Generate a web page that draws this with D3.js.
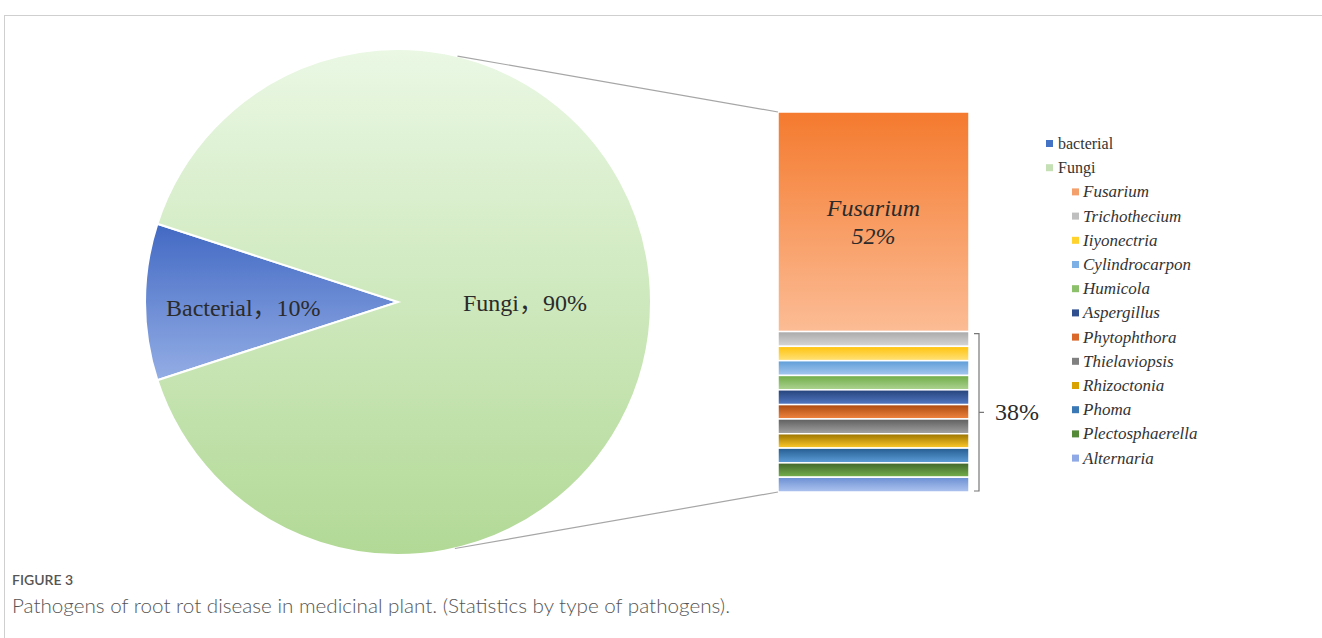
<!DOCTYPE html>
<html><head><meta charset="utf-8">
<script src="https://cdn.jsdelivr.net/npm/d3@7/dist/d3.min.js"></script>
<style>body{margin:0;background:#fff}svg{display:block}</style>
</head><body>
<svg id="chart" width="1322" height="638"></svg>
<script>
// ---- data ----
const mainCategories = ["Bacterial", "Fungi"];
const mainValues = [10, 90];
const fungiGenera = ["Fusarium","Trichothecium","Iiyonectria","Cylindrocarpon","Humicola","Aspergillus","Phytophthora","Thielaviopsis","Rhizoctonia","Phoma","Plectosphaerella","Alternaria"];
const fungiValues = [52, 3.5, 3.4, 3.5, 3.4, 3.5, 3.4, 3.5, 3.4, 3.5, 3.4, 3.5];
const otherGeneraLabel = "38%";
const legendTop = ["bacterial", "Fungi"];

// ---- styles ----
const mainColors = {Bacterial:["#3E66C2","#97B0E6"], Fungi:["#EAF8E4","#B2D996"]};
const genusColors = [
  ["#F47A2E","#FCBC95"],["#A9A9A9","#D6D6D6"],["#FFC20A","#FFE27A"],["#5E9DD8","#A6C8EE"],
  ["#6EAB45","#AED493"],["#24437A","#5379C4"],["#A9490F","#F2853F"],["#5E5E5E","#A3A3A3"],
  ["#9A7200","#FFCB2A"],["#245C8F","#5E9EDA"],["#41662A","#76B14C"],["#6B8FD2","#AEC4F0"]
];
const legendMain = ["#4472C4","#C5E0B4"];
const legendGenus = ["#F4A06C","#BFBFBF","#FFD22E","#7DB0E4","#8DC06A","#2F4F8F","#D9682A","#808080","#D9A200","#3A78B5","#548A38","#8FA9E6"];

const svg = d3.select("#chart");
const defs = svg.append("defs");
function vgrad(id, c){
  const g = defs.append("linearGradient").attr("id", id).attr("x1",0).attr("y1",0).attr("x2",0).attr("y2",1);
  g.append("stop").attr("offset","0%").attr("stop-color", c[0]);
  g.append("stop").attr("offset","100%").attr("stop-color", c[1]);
}

// frame
svg.append("line").attr("x1",4).attr("y1",15.5).attr("x2",1322).attr("y2",15.5).attr("stroke","#cfcfcf");
svg.append("line").attr("x1",4.5).attr("y1",15).attr("x2",4.5).attr("y2",638).attr("stroke","#cfcfcf");

// ---- pie ----
const cx = 398, cy = 302, R = 253;
const deg = Math.PI/180;
const pie = d3.pie().sort(null).startAngle(252*deg).endAngle(612*deg);
const arcs = pie(mainValues);
const arc = d3.arc().innerRadius(0).outerRadius(R);
const gPie = svg.append("g").attr("transform", `translate(${cx},${cy})`);
defs.append("linearGradient").attr("id","gFungi").attr("gradientUnits","userSpaceOnUse")
  .attr("x1",0).attr("y1",-R).attr("x2",0).attr("y2",R)
  .call(g=>{g.append("stop").attr("offset","0%").attr("stop-color",mainColors.Fungi[0]);
            g.append("stop").attr("offset","100%").attr("stop-color",mainColors.Fungi[1]);});
defs.append("linearGradient").attr("id","gBact").attr("gradientUnits","userSpaceOnUse")
  .attr("x1",0).attr("y1",-85).attr("x2",0).attr("y2",85)
  .call(g=>{g.append("stop").attr("offset","0%").attr("stop-color",mainColors.Bacterial[0]);
            g.append("stop").attr("offset","100%").attr("stop-color",mainColors.Bacterial[1]);});
gPie.selectAll("path.slice").data(arcs).join("path").attr("class","slice")
  .attr("d", arc)
  .attr("fill", (d,i)=> i===0 ? "url(#gBact)" : "url(#gFungi)")
  .attr("stroke","#fff").attr("stroke-width",2);

gPie.append("text").attr("x",166-cx).attr("y",316-cy)
  .attr("font-family","'Liberation Serif','Noto Sans CJK SC',serif").attr("font-size",24).attr("fill","#2b2b2b")
  .text(mainCategories[0] + "，" + mainValues[0] + "%");
gPie.append("text").attr("x",463-cx).attr("y",311-cy)
  .attr("font-family","'Liberation Serif','Noto Sans CJK SC',serif").attr("font-size",24).attr("fill","#2b2b2b")
  .text(mainCategories[1] + "，" + mainValues[1] + "%");

// ---- stacked bar ----
const barX = 778, barW = 191;
const total = d3.sum(fungiValues);
const y = d3.scaleLinear().domain([0, total]).range([112, 492]);
let acc = 0;
const stack = fungiValues.map((v,i)=>{ const s = {name:fungiGenera[i], v, y0:acc, y1:acc+v, i}; acc += v; return s; });
stack.forEach(s=> vgrad("gb"+s.i, genusColors[s.i]));
svg.append("g").selectAll("rect").data(stack).join("rect")
  .attr("x", barX).attr("width", barW)
  .attr("y", d=> y(d.y0))
  .attr("height", d=> y(d.y1)-y(d.y0))
  .attr("fill", d=> `url(#gb${d.i})`)
  .attr("stroke","#fff").attr("stroke-width",1.5);

// connector lines
const aTop = 13.6*deg, aBot = 167*deg;
const pt = a => [cx + R*Math.sin(a), cy - R*Math.cos(a)];
const pTop = pt(aTop), pBot = pt(aBot);
svg.append("line").attr("x1",pTop[0]).attr("y1",pTop[1]).attr("x2",barX).attr("y2",y(0))
  .attr("stroke","#a6a6a6").attr("stroke-width",1.2);
svg.append("line").attr("x1",pBot[0]).attr("y1",pBot[1]).attr("x2",barX).attr("y2",y(total))
  .attr("stroke","#a6a6a6").attr("stroke-width",1.2);

// Fusarium label
const fMid = barX + barW/2;
svg.append("text").attr("x", fMid).attr("y", 216).attr("text-anchor","middle")
  .attr("font-family","'Liberation Serif',serif").attr("font-style","italic").attr("font-size",24).attr("fill","#2b2b2b")
  .text(fungiGenera[0]);
svg.append("text").attr("x", fMid).attr("y", 244).attr("text-anchor","middle")
  .attr("font-family","'Liberation Serif',serif").attr("font-style","italic").attr("font-size",24).attr("fill","#2b2b2b")
  .text(fungiValues[0] + "%");

// bracket
const bY0 = y(fungiValues[0]) + 2, bY1 = y(total) - 1, bx = 979;
const bMid = (bY0 + bY1)/2;
svg.append("path")
  .attr("d", `M${bx-5},${bY0} H${bx} V${bY1} H${bx-5} M${bx},${bMid} H${bx+5}`)
  .attr("fill","none").attr("stroke","#777").attr("stroke-width",1.2);
svg.append("text").attr("x", 995).attr("y", bMid+8)
  .attr("font-family","'Liberation Serif',serif").attr("font-size",24).attr("fill","#2b2b2b")
  .text(otherGeneraLabel);

// ---- legend ----
const lg = svg.append("g").attr("font-family","'Liberation Serif',serif").attr("font-size",16).attr("fill","#333");
const rowY = i => 144 + i*24.2;
legendTop.forEach((t,i)=>{
  lg.append("rect").attr("x",1046).attr("y",rowY(i)-4).attr("width",7).attr("height",7).attr("fill",legendMain[i]);
  lg.append("text").attr("x",1058).attr("y",rowY(i)+5).text(t);
});
fungiGenera.forEach((t,i)=>{
  const yy = rowY(i+2);
  lg.append("rect").attr("x",1072).attr("y",yy-4).attr("width",7).attr("height",7).attr("fill",legendGenus[i]);
  lg.append("text").attr("x",1083).attr("y",yy+5).attr("font-style","italic").attr("font-size",17).text(t);
});

// ---- caption ----
svg.append("text").attr("x",12).attr("y",585).attr("font-family","Lato,'Open Sans',sans-serif")
  .attr("font-size",14).attr("font-weight",600).attr("fill","#555").text("FIGURE 3");
svg.append("text").attr("x",12).attr("y",613).attr("font-family","Lato,'Open Sans',sans-serif").attr("font-weight",300)
  .attr("font-size",19).attr("fill","#555").attr("textLength",718).attr("lengthAdjust","spacingAndGlyphs")
  .text("Pathogens of root rot disease in medicinal plant. (Statistics by type of pathogens).");
</script>
</body></html>
